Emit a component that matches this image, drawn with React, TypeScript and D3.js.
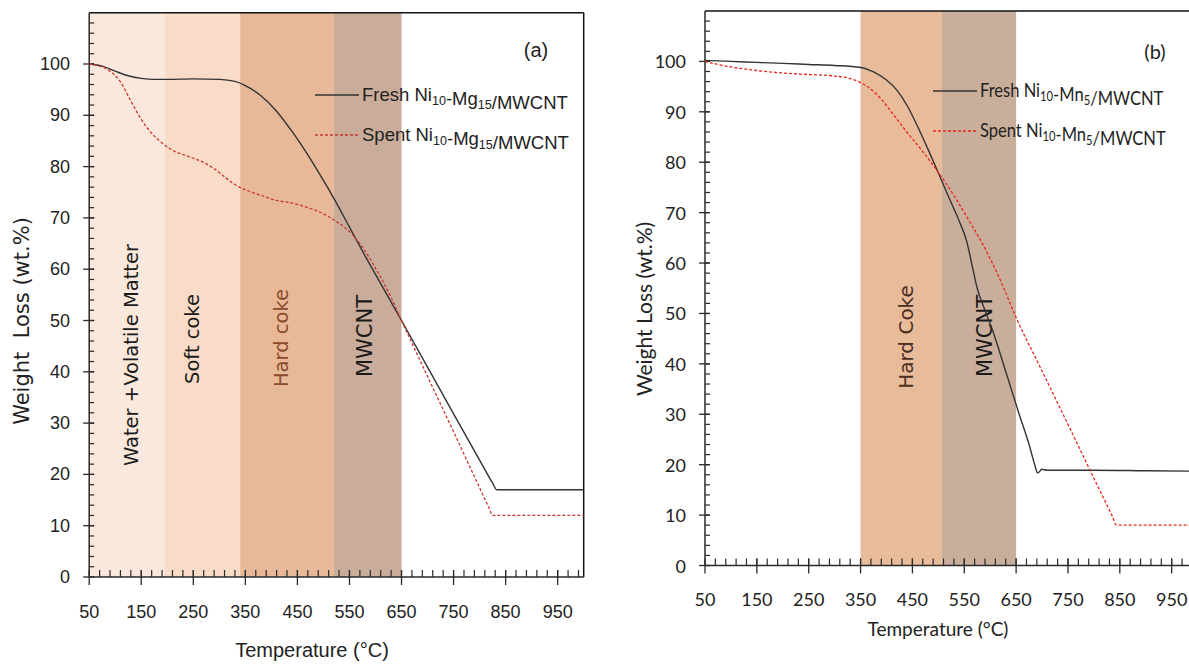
import { useEffect, useRef } from "react";
import * as d3 from "d3";

type Pt = [number, number];

// temperature (°C), weight (wt.%)
const freshMg: Pt[] = [
  [50, 100], [75, 99.6], [100, 98.6], [125, 97.7], [150, 97.2], [175, 97.0],
  [200, 97.0], [250, 97.1], [300, 97.0], [330, 96.6], [350, 95.8], [380, 93.8],
  [410, 90.8], [440, 86.8], [470, 82.3], [500, 77.3], [520, 73.8], [550, 68.2],
  [580, 62.6], [610, 57.2], [650, 50.0], [700, 40.9], [750, 31.8], [800, 22.8],
  [825, 18.3], [833, 17], [840, 17], [900, 17], [1000, 17],
];
const spentMg: Pt[] = [
  [50, 100], [70, 99.6], [90, 98.6], [110, 96.5], [130, 92.8], [150, 89.2],
  [170, 86.5], [190, 84.6], [210, 83.2], [240, 82.0], [270, 80.8], [290, 79.6],
  [310, 78.0], [330, 76.5], [350, 75.5], [380, 74.4], [410, 73.4], [440, 72.9],
  [470, 72.0], [500, 70.8], [520, 69.6], [545, 67.8], [570, 65.0], [600, 60.2],
  [630, 54.5], [650, 50], [700, 39.1], [750, 28.3], [800, 17.4], [818, 13.5],
  [825, 12], [832, 12], [900, 12], [1000, 12],
];
const freshMn: Pt[] = [
  [50, 100.2], [100, 100.0], [150, 99.8], [200, 99.6], [250, 99.4], [300, 99.2],
  [350, 98.8], [375, 97.9], [400, 96.3], [420, 94.3], [440, 91.2], [460, 87.1],
  [480, 82.6], [500, 77.9], [520, 73.1], [540, 68.4], [555, 64.2], [565, 59.6],
  [575, 55.0], [590, 50.6], [604, 46.8], [630, 38.5], [655, 30.3], [675, 24],
  [687, 19.6], [691, 18.4], [695, 18.6], [699, 19.1], [710, 18.9], [800, 18.9],
  [900, 18.8], [1000, 18.7],
];
const spentMn: Pt[] = [
  [50, 100], [75, 99.4], [100, 98.9], [150, 98.2], [200, 97.7], [250, 97.4],
  [300, 97.1], [330, 96.6], [350, 95.8], [370, 94.5], [390, 92.5], [410, 89.9],
  [440, 85.9], [470, 82.1], [500, 78.0], [530, 73.4], [560, 68.3], [590, 62.9],
  [620, 56.5], [650, 49.2], [700, 38.6], [750, 28.0], [800, 17.3], [835, 9.9],
  [844, 8], [852, 8], [900, 8], [1000, 8],
];

const xTicks = [50, 150, 250, 350, 450, 550, 650, 750, 850, 950];
const yTicks = [0, 10, 20, 30, 40, 50, 60, 70, 80, 90, 100];

const zonesMg = [
  { from: 50, to: 195, label: "Water +Volatile Matter" },
  { from: 195, to: 340, label: "Soft coke" },
  { from: 340, to: 520, label: "Hard coke" },
  { from: 520, to: 650, label: "MWCNT" },
];
const zonesMn = [
  { from: 350, to: 507, label: "Hard Coke" },
  { from: 507, to: 650, label: "MWCNT" },
];

type Part = { t: string; sub?: boolean };
const legendMg: Part[][] = [
  [{ t: "Fresh Ni" }, { t: "10", sub: true }, { t: "-Mg" }, { t: "15", sub: true }, { t: "/MWCNT" }],
  [{ t: "Spent Ni" }, { t: "10", sub: true }, { t: "-Mg" }, { t: "15", sub: true }, { t: "/MWCNT" }],
];
const legendMn: Part[][] = [
  [{ t: "Fresh Ni" }, { t: "10", sub: true }, { t: "-Mn" }, { t: "5", sub: true }, { t: "/MWCNT" }],
  [{ t: "Spent Ni" }, { t: "10", sub: true }, { t: "-Mn" }, { t: "5", sub: true }, { t: "/MWCNT" }],
];

const panels = [
  {
    x0: 89.2, x1: 583.7, y0: 577, y1: 12.7, rightBorder: true,
    font: "'Liberation Sans', Arial, sans-serif",
    zones: zonesMg,
    zoneFills: ["#fbe8dc", "#f9dcc7", "#e7b999", "#c9ac99"],
    zoneTextColors: ["#1a1a1a", "#1a1a1a", "#8a4b2a", "#1a1a1a"],
    zoneLabelPos: [[131, 355, 19.5], [192, 339, 19.5], [281, 338, 19.5], [365, 336, 21]],
    fresh: freshMg, spent: spentMg, spentColor: "#c8382f",
    legend: legendMg, legendX: 315, legendY: [95, 135], legendSize: 18.5, legendScaleX: 1,
    tag: "(a)", tagPos: [536, 57], tagSize: 20,
    tickSize: 18, yLabelX: 70, xLabelY: 618,
    yTitle: "Weight  Loss (wt.%)", yTitleFont: "'DejaVu Sans', Verdana, sans-serif",
    yTitlePos: [22, 321], yTitleSize: 21,
    xTitlePos: [312, 657], xTitleSize: 20,
  },
  {
    x0: 705, x1: 1197.6, y0: 565.5, y1: 11, rightBorder: false,
    font: "Lato, 'Open Sans', sans-serif",
    zones: zonesMn,
    zoneFills: ["#e8bc9b", "#c9ae9b"],
    zoneTextColors: ["#4a2e1e", "#1a1a1a"],
    zoneLabelPos: [[906, 337, 20], [985, 336, 21]],
    fresh: freshMn, spent: spentMn, spentColor: "#e8261e",
    legend: legendMn, legendX: 933, legendY: [91, 131], legendSize: 19, legendScaleX: 0.87,
    tag: "(b)", tagPos: [1155, 59], tagSize: 20,
    tickSize: 18, yLabelX: 686, xLabelY: 606,
    yTitle: "Weight Loss (wt.%)", yTitleFont: "Lato, 'Open Sans', sans-serif",
    yTitlePos: [643, 309], yTitleSize: 21,
    xTitlePos: [938, 636], xTitleSize: 19,
  },
];

type Panel = (typeof panels)[number];

function writeParts(sel: d3.Selection<SVGTextElement, unknown, null, undefined>, parts: Part[]) {
  parts.forEach((p) => {
    sel
      .append("tspan")
      .attr("font-size", p.sub ? "0.68em" : null)
      .attr("dy", p.sub ? 4 : 0)
      .text(p.t);
    if (p.sub) sel.append("tspan").attr("dy", -4).text("");
  });
}

function drawPanel(root: d3.Selection<SVGSVGElement, unknown, null, undefined>, p: Panel) {
  const x = d3.scaleLinear().domain([50, 1000]).range([p.x0, p.x1]);
  const y = d3.scaleLinear().domain([0, 110]).range([p.y0, p.y1]);
  const g = root.append("g").attr("font-family", p.font);

  g.selectAll(".zone")
    .data(p.zones)
    .enter()
    .append("rect")
    .attr("x", (d) => x(d.from))
    .attr("y", y(110))
    .attr("width", (d) => x(d.to) - x(d.from))
    .attr("height", y(0) - y(110))
    .attr("fill", (d, i) => p.zoneFills[i]);

  g.selectAll(".zoneLabel")
    .data(p.zones)
    .enter()
    .append("text")
    .attr("transform", (d, i) => `translate(${p.zoneLabelPos[i][0]},${p.zoneLabelPos[i][1]}) rotate(-90)`)
    .attr("text-anchor", "middle")
    .attr("dominant-baseline", "central")
    .attr("font-family", "'DejaVu Sans', Verdana, sans-serif")
    .attr("font-size", (d, i) => p.zoneLabelPos[i][2])
    .attr("fill", (d, i) => p.zoneTextColors[i])
    .text((d) => d.label);

  // frame
  g.append("line")
    .attr("x1", x(50)).attr("x2", x(1000))
    .attr("y1", y(110)).attr("y2", y(110))
    .attr("stroke", "#111").attr("stroke-width", 1.5);
  if (p.rightBorder) {
    g.append("line")
      .attr("x1", x(1000)).attr("x2", x(1000))
      .attr("y1", y(110)).attr("y2", y(0))
      .attr("stroke", "#111").attr("stroke-width", 1.5);
  }

  // axes
  const axisColor = "#2a2a2a";
  g.append("line")
    .attr("x1", x(50)).attr("x2", x(50))
    .attr("y1", y(110)).attr("y2", y(0))
    .attr("stroke", axisColor).attr("stroke-width", 1.5);
  g.append("line")
    .attr("x1", x(50)).attr("x2", x(1000))
    .attr("y1", y(0)).attr("y2", y(0))
    .attr("stroke", axisColor).attr("stroke-width", 1.5);

  g.selectAll(".yMinor")
    .data(d3.range(2, 110, 2))
    .enter()
    .append("line")
    .attr("x1", x(50)).attr("x2", x(50) + 5)
    .attr("y1", (d) => y(d)).attr("y2", (d) => y(d))
    .attr("stroke", axisColor).attr("stroke-width", 1.2);
  g.selectAll(".yMajor")
    .data(yTicks)
    .enter()
    .append("line")
    .attr("x1", x(50) - 6).attr("x2", x(50) + 5)
    .attr("y1", (d) => y(d)).attr("y2", (d) => y(d))
    .attr("stroke", axisColor).attr("stroke-width", 1.3);
  g.selectAll(".yLabel")
    .data(yTicks)
    .enter()
    .append("text")
    .attr("x", p.yLabelX)
    .attr("y", (d) => y(d))
    .attr("dominant-baseline", "central")
    .attr("text-anchor", "end")
    .attr("font-size", p.tickSize)
    .attr("fill", "#222")
    .text((d) => d);

  g.selectAll(".xMinor")
    .data(d3.range(70, 1000, 20))
    .enter()
    .append("line")
    .attr("x1", (d) => x(d)).attr("x2", (d) => x(d))
    .attr("y1", y(0)).attr("y2", y(0) - 7)
    .attr("stroke", axisColor).attr("stroke-width", 1.2);
  g.selectAll(".xMajor")
    .data(xTicks)
    .enter()
    .append("line")
    .attr("x1", (d) => x(d)).attr("x2", (d) => x(d))
    .attr("y1", y(0) + 8).attr("y2", y(0) - 7)
    .attr("stroke", axisColor).attr("stroke-width", 1.3);
  g.selectAll(".xLabel")
    .data(xTicks)
    .enter()
    .append("text")
    .attr("x", (d) => x(d))
    .attr("y", p.xLabelY)
    .attr("text-anchor", "middle")
    .attr("font-size", p.tickSize)
    .attr("fill", "#222")
    .text((d) => d);

  // curves
  const line = d3
    .line<Pt>()
    .x((d) => x(d[0]))
    .y((d) => y(d[1]))
    .curve(d3.curveMonotoneX);
  g.append("path")
    .attr("d", line(p.fresh))
    .attr("fill", "none")
    .attr("stroke", "#333")
    .attr("stroke-width", 1.4);
  g.append("path")
    .attr("d", line(p.spent))
    .attr("fill", "none")
    .attr("stroke", p.spentColor)
    .attr("stroke-width", 1.3)
    .attr("stroke-dasharray", "3,2");

  // legend
  p.legend.forEach((parts, i) => {
    const ly = p.legendY[i];
    g.append("line")
      .attr("x1", p.legendX).attr("x2", p.legendX + 44)
      .attr("y1", ly).attr("y2", ly)
      .attr("stroke", i === 0 ? "#333" : p.spentColor)
      .attr("stroke-width", 1.4)
      .attr("stroke-dasharray", i === 0 ? null : "3,2");
    const t = g
      .append("text")
      .attr("transform", `translate(${p.legendX + 47},${ly + 6}) scale(${p.legendScaleX},1)`)
      .attr("font-size", p.legendSize)
      .attr("fill", "#222");
    writeParts(t, parts);
  });

  g.append("text")
    .attr("x", p.tagPos[0])
    .attr("y", p.tagPos[1])
    .attr("text-anchor", "middle")
    .attr("font-size", p.tagSize)
    .attr("fill", "#222")
    .text(p.tag);

  g.append("text")
    .attr("transform", `translate(${p.yTitlePos[0]},${p.yTitlePos[1]}) rotate(-90)`)
    .attr("text-anchor", "middle")
    .attr("dominant-baseline", "central")
    .attr("font-family", p.yTitleFont)
    .attr("font-size", p.yTitleSize)
    .attr("fill", "#222")
    .style("white-space", "pre")
    .text(p.yTitle);

  g.append("text")
    .attr("x", p.xTitlePos[0])
    .attr("y", p.xTitlePos[1])
    .attr("text-anchor", "middle")
    .attr("font-size", p.xTitleSize)
    .attr("fill", "#222")
    .text("Temperature (°C)");
}

export default function App() {
  const ref = useRef<SVGSVGElement>(null);

  useEffect(() => {
    const svg = d3.select(ref.current as SVGSVGElement);
    svg.selectAll("*").remove();
    panels.forEach((p) => drawPanel(svg, p));
  }, []);

  return (
    <svg
      ref={ref}
      width={1189}
      height={665}
      style={{ position: "absolute", left: 0, top: 0, background: "#fff", overflow: "hidden" }}
    />
  );
}
